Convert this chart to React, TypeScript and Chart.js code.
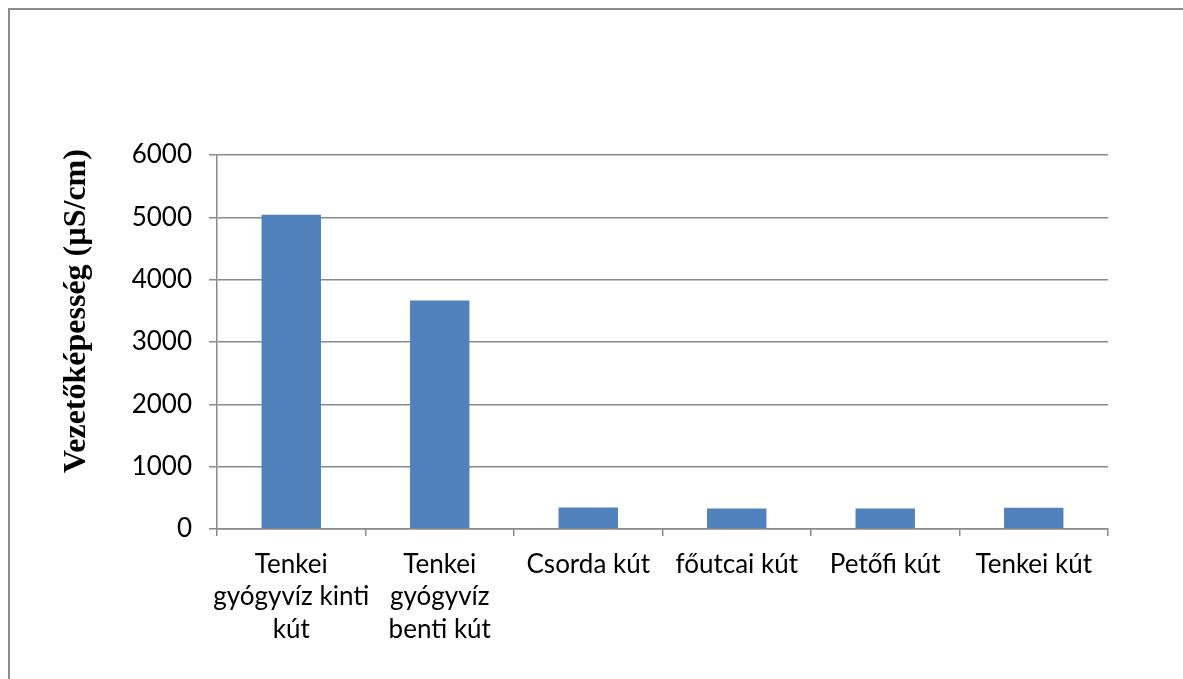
import React, { useEffect, useRef } from "react";
import { Chart, registerables } from "chart.js";

Chart.register(...registerables);

const categories: (string | string[])[] = [
  ["Tenkei", "gyógyvíz kinti", "kút"],
  ["Tenkei", "gyógyvíz", "benti kút"],
  "Csorda kút",
  "főutcai kút",
  "Petőfi kút",
  "Tenkei kút",
];
const conductivity: number[] = [5040, 3665, 345, 330, 330, 340];
const yTicks: number[] = [0, 1000, 2000, 3000, 4000, 5000, 6000];
const yTitle = "Vezetőképesség (µS/cm)";

const GRID = "#8a8a8a";

const yTitlePlugin = {
  id: "yTitlePlugin",
  afterDraw(chart: any) {
    const ctx = chart.ctx;
    ctx.save();
    ctx.translate(75, 301);
    ctx.rotate(-Math.PI / 2);
    ctx.font = "bold 32px 'Liberation Serif'";
    ctx.fillStyle = "#000";
    ctx.textAlign = "center";
    ctx.textBaseline = "alphabetic";
    ctx.fillText(yTitle, 0, 0);
    ctx.restore();
  },
};

export default function App() {
  const ref = useRef<HTMLCanvasElement | null>(null);
  useEffect(() => {
    if (!ref.current) return;
    const chart = new Chart(ref.current, {
      type: "bar",
      data: {
        labels: categories,
        datasets: [
          {
            data: conductivity,
            backgroundColor: "#4f81bd",
            borderWidth: 0,
            barPercentage: 0.5,
            categoryPercentage: 0.8,
          },
        ],
      },
      plugins: [yTitlePlugin],
      options: {
        animation: false,
        responsive: false,
        devicePixelRatio: 1,
        layout: { padding: { top: 145, right: 75, bottom: 0, left: 0 } },
        plugins: { legend: { display: false }, tooltip: { enabled: false } },
        scales: {
          x: {
            grid: {
              display: true,
              drawOnChartArea: false,
              drawTicks: true,
              tickLength: 7,
              color: GRID,
              lineWidth: 1.5,
              offset: true,
            },
            border: { display: true, color: GRID, width: 1.5 },
            ticks: {
              color: "#000",
              font: { family: "Lato", size: 26, lineHeight: 1.25 },
              padding: 12,
              maxRotation: 0,
              autoSkip: false,
            },
            afterFit: (s: any) => {
              s.height = 150;
            },
          },
          y: {
            min: 0,
            max: 6000,
            afterBuildTicks: (s: any) => {
              s.ticks = yTicks.map((v) => ({ value: v }));
            },
            grid: {
              color: GRID,
              lineWidth: 1.5,
              drawTicks: true,
              tickLength: 8,
            },
            border: { display: true, color: GRID, width: 1.5 },
            ticks: {
              color: "#000",
              font: { family: "Lato", size: 26 },
              padding: 17,
              callback: (v: any) => String(v),
            },
            afterFit: (s: any) => {
              s.width = 207;
            },
          },
        },
      },
    });
    return () => chart.destroy();
  }, []);

  return (
    <div
      style={{
        position: "fixed",
        left: 8,
        top: 8,
        width: 1173,
        height: 669,
        borderTop: "2px solid #8c8c8c",
        borderLeft: "2px solid #8c8c8c",
        background: "#fff",
      }}
    >
      <canvas ref={ref} width={1173} height={669} style={{ display: "block" }} />
    </div>
  );
}
